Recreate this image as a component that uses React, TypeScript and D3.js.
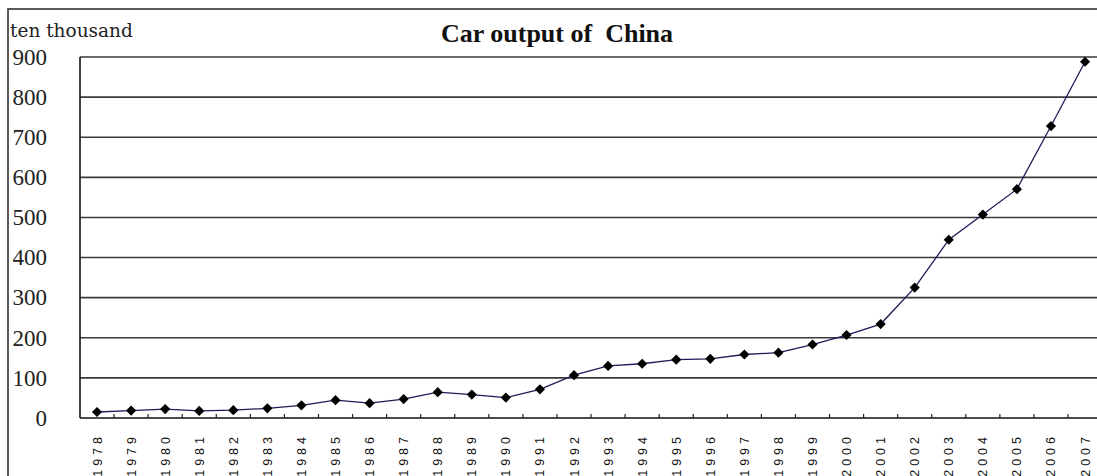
import React from "react";
import * as d3 from "d3";

// Annual car output of China, in units of ten thousand vehicles
const years: string[] = [
  "1978", "1979", "1980", "1981", "1982", "1983", "1984", "1985", "1986", "1987",
  "1988", "1989", "1990", "1991", "1992", "1993", "1994", "1995", "1996", "1997",
  "1998", "1999", "2000", "2001", "2002", "2003", "2004", "2005", "2006", "2007",
];
const output: number[] = [
  14.9, 18.6, 22.2, 17.6, 19.6, 24.0, 31.6, 44.4, 37.0, 47.2,
  64.5, 58.4, 50.9, 71.4, 106.7, 129.9, 135.3, 145.3, 147.5, 158.3,
  162.8, 183.2, 206.9, 234.2, 325.1, 444.4, 507.1, 570.5, 727.9, 888.2,
];
const yTicks: number[] = [0, 100, 200, 300, 400, 500, 600, 700, 800, 900];

const W = 1097;
const H = 476;
const left = 80;
const top = 57;
const bottom = 418;
const step = 34.07;

export default function App() {
  const x = d3
    .scaleBand<string>()
    .domain(years)
    .range([left, left + step * years.length])
    .paddingInner(0)
    .paddingOuter(0);
  const y = d3.scaleLinear().domain([0, 900]).range([bottom, top]);
  const cx = (yr: string) => (x(yr) as number) + x.bandwidth() / 2;

  const line = d3
    .line<number>()
    .x((_, i) => cx(years[i]))
    .y((v) => y(v));

  const marker = d3.symbol(d3.symbolSquare, 52)() as string;
  const right = left + step * years.length;

  return (
    <svg
      width={W}
      height={H}
      style={{ position: "absolute", left: 0, top: 0, background: "#fff" }}
    >
      {/* chart frame */}
      <rect x={8} y={9} width={1300} height={700} fill="#fff" stroke="#333" strokeWidth={1.6} />

      {/* horizontal gridlines */}
      {yTicks.map((t) => (
        <line
          key={"g" + t}
          x1={left}
          x2={right}
          y1={y(t)}
          y2={y(t)}
          stroke={t === 0 ? "#111" : "#3a3a3a"}
          strokeWidth={1.6}
        />
      ))}
      {/* value axis */}
      <line x1={left} x2={left} y1={top} y2={bottom} stroke="#111" strokeWidth={1.6} />

      {/* category tick marks between years */}
      {years.map((yr) => (
        <line
          key={"t" + yr}
          x1={(x(yr) as number) + x.bandwidth()}
          x2={(x(yr) as number) + x.bandwidth()}
          y1={bottom - 4}
          y2={bottom}
          stroke="#222"
          strokeWidth={1.2}
        />
      ))}

      {/* y tick labels */}
      {yTicks.map((t) => (
        <text
          key={"yl" + t}
          x={47}
          y={y(t)}
          dy="0.34em"
          textAnchor="end"
          fontFamily="'Liberation Serif', serif"
          fontSize={23}
          fill="#222"
        >
          {t}
        </text>
      ))}

      {/* x tick labels, rotated */}
      {years.map((yr) => (
        <text
          key={"xl" + yr}
          transform={`translate(${cx(yr) + 4.5},${433}) rotate(-90)`}
          textAnchor="end"
          fontFamily="'Liberation Sans', Arial, sans-serif"
          fontSize={12.5}
          letterSpacing={4}
          fill="#111"
        >
          {yr}
        </text>
      ))}

      {/* unit label */}
      <text x={10} y={37} fontFamily="'DejaVu Serif', serif" fontSize={18.5} fill="#222">
        ten thousand
      </text>

      {/* title */}
      <text
        x={557}
        y={42}
        textAnchor="middle"
        fontFamily="'Liberation Serif', 'Times New Roman', serif"
        fontWeight="bold"
        fontSize={26}
        fill="#111"
        style={{ whiteSpace: "pre" }}
      >
        {"Car output of  China"}
      </text>

      {/* series line */}
      <path d={line(output) as string} fill="none" stroke="#1c1c5a" strokeWidth={1.3} />

      {/* diamond markers */}
      {output.map((v, i) => (
        <path
          key={"m" + i}
          d={marker}
          transform={`translate(${cx(years[i])},${y(v)}) rotate(45)`}
          fill="#000"
        />
      ))}
    </svg>
  );
}
